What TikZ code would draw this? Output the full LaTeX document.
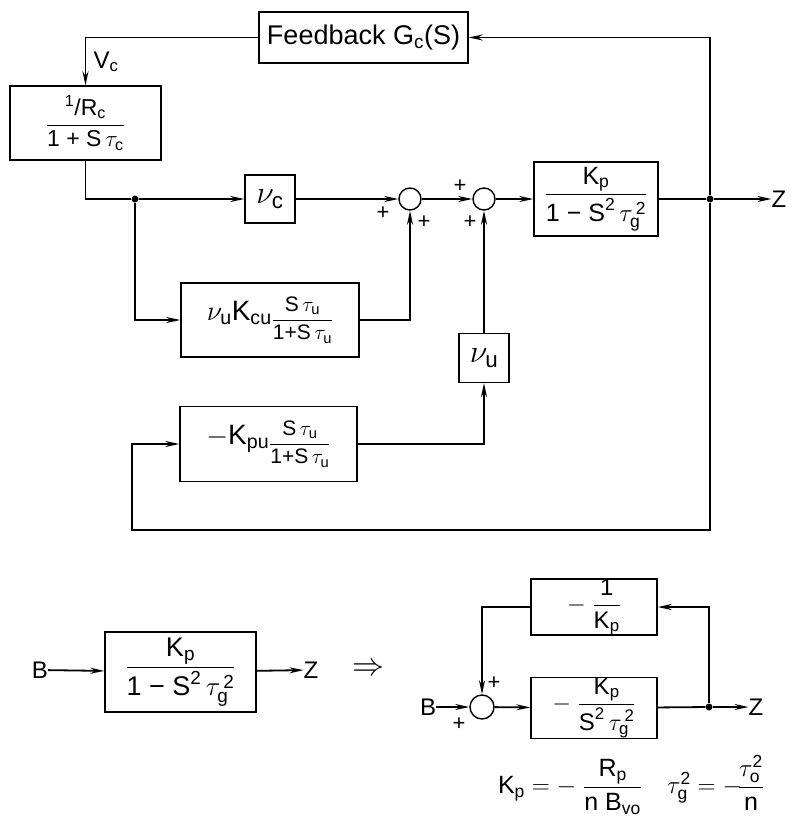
\RequirePackage{fix-cm}
\documentclass[tikz,border=0pt]{standalone}
\usepackage{amsmath}
\usepackage{fontspec}
\setmainfont{Liberation Sans}
\usetikzlibrary{arrows.meta}

\newcommand{\tx}[1]{\text{#1}}
\newcommand{\fsz}[1]{\fontsize{#1}{#1}\selectfont}
\newcommand{\lowfrac}[3]{\raisebox{-5pt}{\fsz{#1}$\dfrac{#2}{#3}$}}

\tikzset{
  blk/.style={draw, line width=1.4pt, inner sep=0pt},
  sumnode/.style={draw, circle, line width=1.4pt, minimum size=22pt, inner sep=0pt},
  joint/.style={circle, fill, minimum size=7pt, inner sep=0pt},
  sgn/.style={font=\fsz{22}, inner sep=0pt},
  lbl/.style={font=\fsz{24}, inner sep=0pt},
  wire/.style={line width=1.8pt},
  sig/.style={wire, -{Stealth[length=14pt,width=6pt]}},
}

\begin{document}
\begin{tikzpicture}[x=1pt,y=-1pt]
  \useasboundingbox (0,0) rectangle (801,824);
  % upper loop
  \node[blk, minimum width=209pt, minimum height=51pt, font=\fsz{27}] (fb) at (363.5,37.5) {Feedback G$_{\tx{c}}$(S)};
  \node[blk, minimum width=151pt, minimum height=74pt, font=\fsz{23}] (rc) at (85.5,123)
    {$\dfrac{\tx{\textsuperscript{1}/R}_{\tx{c}}}{\tx{1 + S}\,\tau_{\tx{c}}}$};
  \node[lbl] (vc) at (106,62) {V$_{\tx{c}}$};
  \node[joint] (j1) at (135,199) {};
  \node[blk, minimum width=50pt, minimum height=48pt, font=\fsz{32}] (nuc) at (270,199) {$\nu_{\tx{c}}$};
  \node[sumnode] (s1) at (410,199) {};
  \node[sumnode] (s2) at (484,199) {};
  \node[blk, minimum width=124pt, minimum height=74pt, font=\fsz{25}] (kp) at (596,199)
    {$\dfrac{\tx{K}_{\tx{p}}}{\tx{1 − S}^{\tx{2}}\,\tau_{\tx{g}}^{\,\tx{2}}}$};
  \node[joint] (j2) at (710,199) {};
  \node[lbl] (z1) at (779,199) {Z};
  \node[blk, minimum width=178pt, minimum height=74pt, font=\fsz{28}] (kcu) at (270,320)
    {$\nu_{\tx{u}}\tx{K}_{\tx{cu}}$\lowfrac{21}{\tx{S}\,\tau_{\tx{u}}}{\tx{1+S}\,\tau_{\tx{u}}}};
  \node[blk, minimum width=50pt, minimum height=49pt, font=\fsz{32}] (nuu) at (484,358) {$\nu_{\tx{u}}$};
  \node[blk, minimum width=177pt, minimum height=75pt, font=\fsz{28}] (kpu) at (268.5,444)
    {$-\tx{K}_{\tx{pu}}$\lowfrac{21}{\tx{S}\,\tau_{\tx{u}}}{\tx{1+S}\,\tau_{\tx{u}}}};
  \coordinate (c1) at (132,530);

  \draw[sig] (fb.west) -| (rc.north);
  \draw[sig] (j2) |- (fb.east);
  \draw[wire] (rc.south) |- (j1);
  \draw[sig] (j1) -- (nuc);
  \draw[sig] (nuc) -- (s1);
  \draw[sig] (s1) -- (s2);
  \draw[sig] (s2) -- (kp);
  \draw[wire] (kp) -- (j2);
  \draw[sig] (j2) -- (z1);
  \draw[sig] (j1) |- (kcu.west);
  \draw[sig] (kcu.east) -| (s1.south);
  \draw[sig] (nuu) -- (s2);
  \draw[sig] (kpu.east) -| (nuu.south);
  \draw[sig] (j2) |- (c1) |- (kpu.west);

  \node[sgn] (p1) at (383,213) {+};
  \node[sgn] (p2) at (424,222) {+};
  \node[sgn] (p3) at (460,186) {+};
  \node[sgn] (p4) at (470,222) {+};

  % equivalent loop
  \node[lbl] (b1) at (40,670) {B};
  \node[blk, minimum width=151pt, minimum height=80pt, font=\fsz{27}] (bk) at (180.5,672)
    {$\dfrac{\tx{K}_{\tx{p}}}{\tx{1 − S}^{\tx{2}}\,\tau_{\tx{g}}^{\,\tx{2}}}$};
  \node[lbl] (z2) at (311,670) {Z};
  \node[font=\fsz{32}] (imp) at (368,670) {$\Rightarrow$};
  \draw[sig] (b1) -- (bk);
  \draw[sig] (bk) -- (z2);

  \node[lbl] (b2) at (428,707) {B};
  \node[sumnode, minimum size=24pt] (s3) at (482,707) {};
  \node[blk, minimum width=126pt, minimum height=52pt, font=\fsz{24}] (ik) at (594,607)
    {$-\;\dfrac{\tx{1}}{\tx{K}_{\tx{p}}}$};
  \node[blk, minimum width=126pt, minimum height=52pt, font=\fsz{24}] (gk) at (594,708)
    {$-\;\dfrac{\tx{K}_{\tx{p}}}{\tx{S}^{\tx{2}}\,\tau_{\tx{g}}^{\,\tx{2}}}$};
  \node[joint] (j3) at (709,707) {};
  \node[lbl] (z3) at (756,707) {Z};
  \draw[sig] (b2) -- (s3);
  \draw[sig] (s3) -- (gk);
  \draw[wire] (gk) -- (j3);
  \draw[sig] (j3) -- (z3);
  \draw[sig] (j3) |- (ik.east);
  \draw[sig] (ik.west) -| (s3.north);
  \node[sgn] (p5) at (459,724) {+};
  \node[sgn] (p6) at (494,683) {+};

  \node[font=\fsz{25}] (fm) at (631,785)
    {$\tx{K}_{\tx{p}} = -\;\dfrac{\tx{R}_{\tx{p}}}{\tx{n B}_{\tx{vo}}}\quad \tau_{\tx{g}}^{\tx{2}} = -\!\dfrac{\tau_{\tx{o}}^{\tx{2}}}{\tx{n}}$};
\end{tikzpicture}
\end{document}
